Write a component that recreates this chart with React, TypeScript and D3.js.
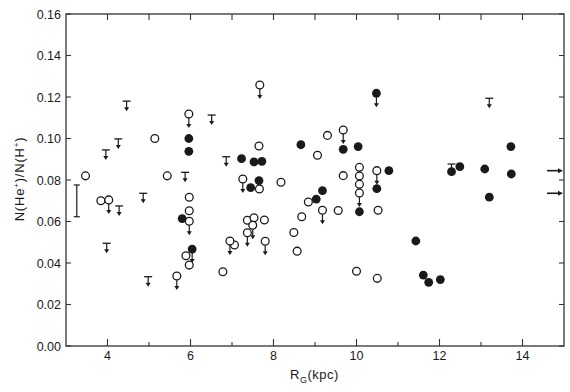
import React from "react";
import * as d3 from "d3";

const W = 570;
const H = 392;

// [R_G (kpc), N(He+)/N(H+)]
const openPoints: [number, number][] = [
  [3.47, 0.082], [3.84, 0.070], [5.14, 0.1], [5.44, 0.082], [5.97, 0.0717],
  [5.97, 0.0652], [5.89, 0.0435], [5.97, 0.039], [7.65, 0.0964], [8.18, 0.0789],
  [7.66, 0.0757], [8.84, 0.0694], [8.68, 0.0623], [7.37, 0.0606], [7.53, 0.0618],
  [7.78, 0.0607], [7.06, 0.0487], [8.49, 0.0547], [8.57, 0.0457], [6.78, 0.0358],
  [9.3, 0.1015], [9.06, 0.0919], [9.68, 0.0821], [10.07, 0.0861], [10.07, 0.0819],
  [10.07, 0.0779], [9.56, 0.0653], [10.52, 0.0654], [10.0, 0.036], [10.5, 0.0326],
];

const openLimits: [number, number][] = [
  [4.03, 0.0704], [5.96, 0.1118], [5.97, 0.0601], [5.67, 0.0337], [7.67, 0.1258],
  [7.26, 0.0805], [7.5, 0.0582], [7.37, 0.0546], [6.95, 0.0506], [7.8, 0.0505],
  [9.68, 0.1041], [10.07, 0.0737], [10.49, 0.0845], [9.18, 0.0654],
];

const filledPoints: [number, number][] = [
  [5.96, 0.1], [5.96, 0.0938], [5.8, 0.0614], [8.66, 0.097], [7.23, 0.0903],
  [7.53, 0.0887], [7.72, 0.089], [7.65, 0.0797], [7.45, 0.0763], [9.68, 0.0948],
  [10.04, 0.0961], [10.07, 0.0647], [10.78, 0.0845], [10.49, 0.0758], [9.18, 0.0749],
  [9.03, 0.0708], [11.43, 0.0506], [11.61, 0.0342], [11.74, 0.0307], [12.02, 0.032],
  [13.72, 0.0961], [12.29, 0.084], [12.49, 0.0864], [13.09, 0.0853], [13.73, 0.0829],
  [13.2, 0.0717],
];

const filledLimits: [number, number][] = [
  [10.48, 0.1218], [6.04, 0.0467],
];

// upper limits drawn as a bar with a down arrow
const upperBars: [number, number][] = [
  [4.46, 0.118], [4.26, 0.0998], [3.96, 0.0945], [5.87, 0.0837], [4.28, 0.0675],
  [4.86, 0.0736], [3.98, 0.0495], [4.98, 0.0334], [6.51, 0.1113], [6.86, 0.0912],
  [13.2, 0.1194],
];

// small cap above a point
const caps: [number, number][] = [[12.29, 0.0877]];

// representative error bar [x, low, high]
const errorBar: [number, number, number] = [3.26, 0.0623, 0.0776];

// arrows on the right edge
const edgeArrows = [0.0845, 0.0736];

const yTicks = [0, 0.02, 0.04, 0.06, 0.08, 0.1, 0.12, 0.14, 0.16];
const xMajor = [4, 6, 8, 10, 12, 14];
const xMinor = [5, 7, 9, 11, 13];

const FONT = "'Liberation Sans', Arial, sans-serif";
const INK = "#1a1a1a";

const Arrow = ({ cx, y0, y1 }: { cx: number; y0: number; y1: number }) => (
  <g>
    <line x1={cx} x2={cx} y1={y0} y2={y1 - 3} stroke={INK} strokeWidth={1.2} />
    <path d={`M${cx - 2.5},${y1 - 4} L${cx + 2.5},${y1 - 4} L${cx},${y1} Z`} fill={INK} />
  </g>
);

export default function App() {
  const x = d3.scaleLinear().domain([3, 15]).range([66, 564]);
  const y = d3.scaleLinear().domain([0, 0.16]).range([346, 14]);
  const [x0, x1] = x.range();
  const [yb, yt] = y.range();

  return (
    <svg
      width={W}
      height={H}
      style={{ position: "absolute", left: 0, top: 0, background: "#fff" }}
      fontFamily={FONT}
    >
      {/* frame */}
      <rect x={x0} y={yt} width={x1 - x0} height={yb - yt} fill="none" stroke="#333" strokeWidth={1.3} />

      {/* y ticks + labels */}
      {yTicks.map((t) => (
        <g key={"y" + t}>
          <line x1={x0} x2={x0 + 5} y1={y(t)} y2={y(t)} stroke="#333" strokeWidth={1.1} />
          <line x1={x1} x2={x1 - 5} y1={y(t)} y2={y(t)} stroke="#333" strokeWidth={1.1} />
          <text x={x0 - 5} y={y(t) + 4.5} textAnchor="end" fontSize={12.5} fill={INK}>
            {t.toFixed(2)}
          </text>
        </g>
      ))}

      {/* x ticks + labels */}
      {xMajor.map((t) => (
        <g key={"x" + t}>
          <line x1={x(t)} x2={x(t)} y1={yb} y2={yb - 7} stroke="#333" strokeWidth={1.1} />
          <line x1={x(t)} x2={x(t)} y1={yt} y2={yt + 6} stroke="#333" strokeWidth={1.1} />
          <text x={x(t)} y={yb + 14} textAnchor="middle" fontSize={12.5} fill={INK}>
            {t}
          </text>
        </g>
      ))}
      {xMinor.map((t) => (
        <g key={"xm" + t}>
          <line x1={x(t)} x2={x(t)} y1={yb} y2={yb - 4} stroke="#333" strokeWidth={1.1} />
          <line x1={x(t)} x2={x(t)} y1={yt} y2={yt + 6} stroke="#333" strokeWidth={1.1} />
        </g>
      ))}

      {/* axis titles */}
      <text x={290} y={379} fontSize={13} fill={INK} letterSpacing={0.5}>
        R<tspan dy={4} fontSize={9}>G</tspan>
        <tspan dy={-4}>(kpc)</tspan>
      </text>
      <text
        transform="translate(24,179) rotate(-90)"
        textAnchor="middle"
        fontSize={13}
        fill={INK}
        letterSpacing={0.8}
      >
        N(He<tspan dy={-5} fontSize={8}>+</tspan>
        <tspan dy={5}>)/N(H</tspan>
        <tspan dy={-5} fontSize={8}>+</tspan>
        <tspan dy={5}>)</tspan>
      </text>

      {/* error bar */}
      <g stroke={INK} strokeWidth={1.2}>
        <line x1={x(errorBar[0])} x2={x(errorBar[0])} y1={y(errorBar[1])} y2={y(errorBar[2])} />
        <line x1={x(errorBar[0]) - 3} x2={x(errorBar[0]) + 3} y1={y(errorBar[1])} y2={y(errorBar[1])} />
        <line x1={x(errorBar[0]) - 3} x2={x(errorBar[0]) + 3} y1={y(errorBar[2])} y2={y(errorBar[2])} />
      </g>

      {/* upper limit bars */}
      {upperBars.map(([a, b], i) => (
        <g key={"u" + i}>
          <line x1={x(a) - 4} x2={x(a) + 4} y1={y(b)} y2={y(b)} stroke={INK} strokeWidth={1.3} />
          <Arrow cx={x(a)} y0={y(b)} y1={y(b) + 10} />
        </g>
      ))}

      {caps.map(([a, b], i) => (
        <g key={"c" + i} stroke={INK} strokeWidth={1.2}>
          <line x1={x(a) - 4} x2={x(a) + 4} y1={y(b)} y2={y(b)} />
          <line x1={x(a)} x2={x(a)} y1={y(b)} y2={y(b) + 4} />
        </g>
      ))}

      {/* arrows below limit circles */}
      {[...openLimits, ...filledLimits].map(([a, b], i) => (
        <Arrow key={"la" + i} cx={x(a)} y0={y(b) + 4} y1={y(b) + 14} />
      ))}

      {/* open circles */}
      {[...openPoints, ...openLimits].map(([a, b], i) => (
        <circle key={"o" + i} cx={x(a)} cy={y(b)} r={3.9} fill="#fff" stroke={INK} strokeWidth={1.3} />
      ))}

      {/* filled circles */}
      {[...filledPoints, ...filledLimits].map(([a, b], i) => (
        <circle key={"f" + i} cx={x(a)} cy={y(b)} r={4.4} fill={INK} />
      ))}

      {/* edge arrows */}
      {edgeArrows.map((v, i) => (
        <g key={"e" + i}>
          <line x1={x1 - 17} x2={x1 - 5} y1={y(v)} y2={y(v)} stroke={INK} strokeWidth={1.6} />
          <path d={`M${x1 - 6},${y(v) - 2.5} L${x1 - 6},${y(v) + 2.5} L${x1 - 1},${y(v)} Z`} fill={INK} />
        </g>
      ))}
    </svg>
  );
}
